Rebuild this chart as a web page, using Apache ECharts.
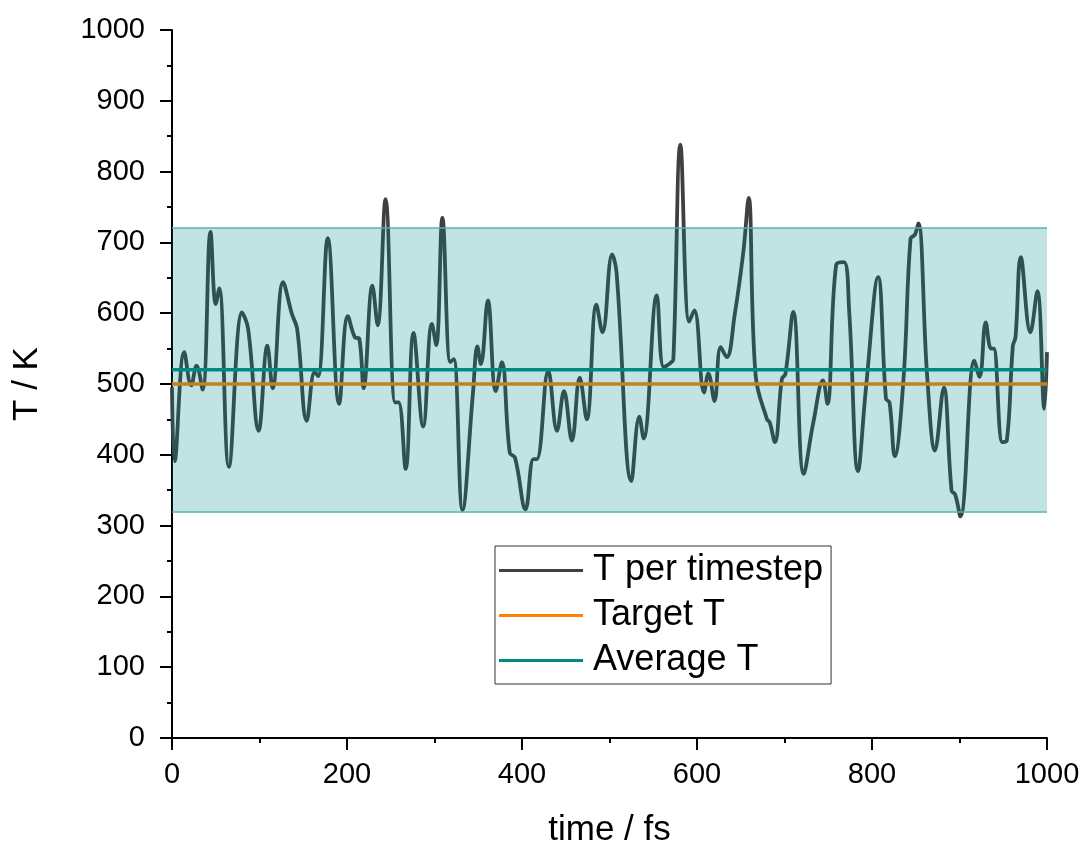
<!DOCTYPE html>
<html>
<head>
<meta charset="utf-8">
<script src="https://cdn.jsdelivr.net/npm/echarts@6/dist/echarts.min.js"></script>
<style>html,body{margin:0;padding:0;background:#fff}#chart{width:1082px;height:841px}</style>
</head>
<body>
<div id="chart"></div>
<script>
// time (fs) and temperature (K)
const timeFs = [0,3,14,22,28,35,44,50,54,65,80,87,99,109,115,127,137,143,154,163,167,178,191,201,209,214,219,229,235,244,255,259,267,276,287,297,302,309,318,322,332,344,349,353,361,370,377,386,392,404,413,417,430,440,448,457,466,474,485,492,503,508,525,534,539,554,562,570,573,581,591,597,608,613,620,627,634,643,653,659,667,680,683,689,697,701,710,722,733,744,749,759,768,774,784,793,807,816,820,826,836,844,849,853,863,872,882,891,895,901,917,923,930,936,939,949,954,961,964,970,981,989,997,1000];
const tempK = [495,391,545,498,526,492,715,613,635,383,601,578,434,554,494,644,599,578,448,517,511,706,472,596,566,564,494,639,583,761,474,474,380,572,440,585,555,735,531,535,322,488,553,528,618,490,531,403,396,323,394,394,519,434,490,420,509,450,612,573,683,658,363,454,423,625,524,530,535,838,588,604,488,515,476,552,538,597,687,763,512,450,446,418,507,514,602,373,446,505,472,668,672,601,377,493,651,479,474,398,507,705,711,727,512,406,495,349,344,313,533,510,587,550,550,418,420,554,566,679,573,631,465,545];
const targetT = 500;
const averageT = 520;
const bandLow = 320;
const bandHigh = 720;
const xRange = [0, 1000];
const seriesNames = ['T per timestep', 'Target T', 'Average T'];

const font = 'Liberation Sans, Arial, sans-serif';
const curve = timeFs.map((t, i) => [t, tempK[i]]);
const plain = v => String(v);

const chart = echarts.init(document.getElementById('chart'), null, {renderer: 'canvas'});
chart.setOption({
  animation: false,
  backgroundColor: '#fff',
  grid: {left: 172, right: 35, top: 30, bottom: 103, outerBoundsMode: 'none', containLabel: false},
  legend: {
    orient: 'vertical',
    left: 495, top: 546,
    data: seriesNames.map(n => ({name: n, icon: 'rect'})),
    itemWidth: 84, itemHeight: 3, itemGap: 6,
    padding: [5, 8, 4, 4],
    borderColor: '#333', borderWidth: 1,
    textStyle: {fontFamily: font, fontSize: 36, color: '#000', lineHeight: 39, padding: [0, 0, 0, 5]}
  },
  xAxis: {
    type: 'value', min: xRange[0], max: xRange[1], interval: 200,
    name: 'time / fs', nameLocation: 'middle', nameGap: 75, nameMoveOverlap: false,
    nameTextStyle: {fontFamily: font, fontSize: 35, color: '#000'},
    axisLine: {show: true, onZero: false, lineStyle: {color: '#000', width: 2}},
    axisTick: {show: true, length: 12, lineStyle: {color: '#000', width: 2}},
    minorTick: {show: true, splitNumber: 2, length: 5, lineStyle: {color: '#000', width: 2}},
    axisLabel: {fontFamily: font, fontSize: 29, color: '#000', margin: 22, formatter: plain},
    splitLine: {show: false}
  },
  yAxis: {
    type: 'value', min: 0, max: 1000, interval: 100,
    name: 'T / K', nameLocation: 'middle', nameGap: 127, nameMoveOverlap: false,
    nameTextStyle: {fontFamily: font, fontSize: 35, color: '#000'},
    axisLine: {show: true, lineStyle: {color: '#000', width: 2}},
    axisTick: {show: true, length: 12, lineStyle: {color: '#000', width: 2}},
    minorTick: {show: true, splitNumber: 2, length: 5, lineStyle: {color: '#000', width: 2}},
    axisLabel: {fontFamily: font, fontSize: 29, color: '#000', margin: 27, formatter: plain},
    splitLine: {show: false}
  },
  series: [
    {
      name: seriesNames[0], type: 'line', data: curve, smooth: 0.4,
      showSymbol: false, symbol: 'none', color: '#404040',
      lineStyle: {color: '#404040', width: 3.8}, z: 2
    },
    {
      name: seriesNames[1], type: 'line', data: xRange.map(x => [x, targetT]),
      showSymbol: false, symbol: 'none', color: '#ff8000',
      lineStyle: {color: '#ff8000', width: 3.5}, z: 3
    },
    {
      name: seriesNames[2], type: 'line', data: xRange.map(x => [x, averageT]),
      showSymbol: false, symbol: 'none', color: '#008b80',
      lineStyle: {color: '#008b80', width: 3.5}, z: 4
    },
    {
      name: 'band', type: 'line', data: [], z: 10, silent: true,
      markArea: {
        silent: true, z: 10,
        itemStyle: {color: 'rgba(0,139,139,0.24)', borderWidth: 0},
        data: [[{yAxis: bandLow, xAxis: xRange[0]}, {yAxis: bandHigh, xAxis: xRange[1]}]]
      },
      markLine: {
        silent: true, symbol: 'none', z: 10, label: {show: false},
        lineStyle: {color: '#52b3b3', width: 1.5, type: 'solid'},
        data: [{yAxis: bandLow}, {yAxis: bandHigh}]
      }
    }
  ]
});
</script>
</body>
</html>
